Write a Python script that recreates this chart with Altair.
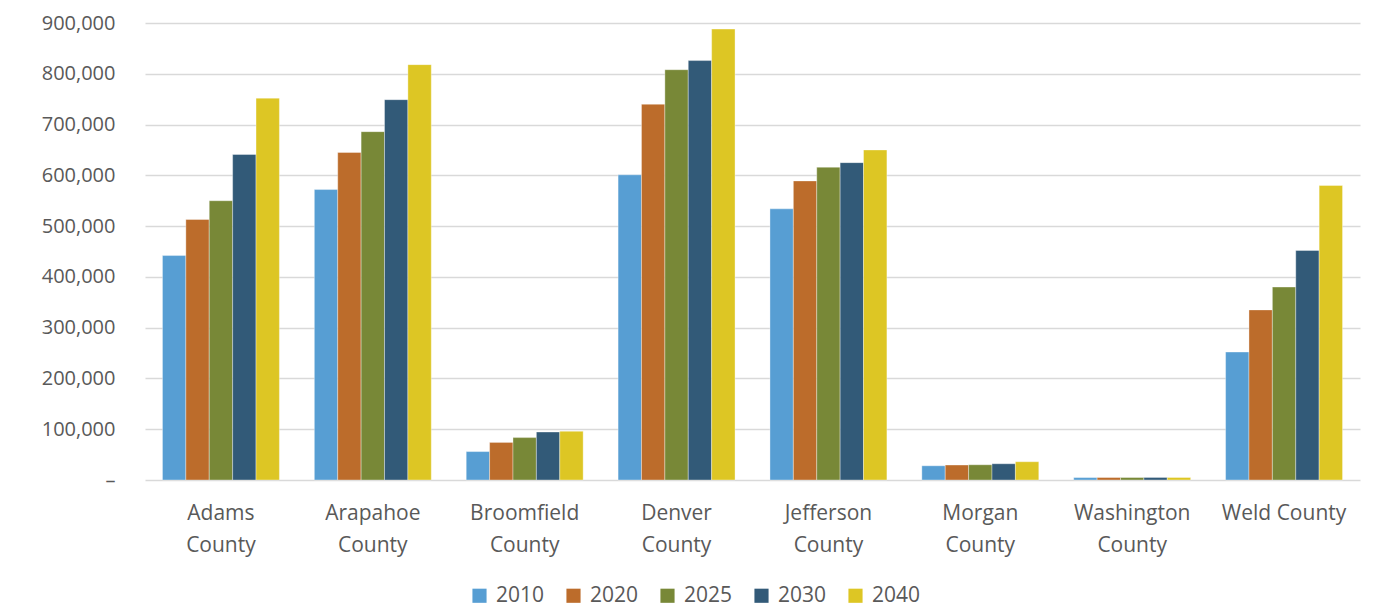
import altair as alt
import pandas as pd

counties = ["Adams County", "Arapahoe County", "Broomfield County", "Denver County",
            "Jefferson County", "Morgan County", "Washington County", "Weld County"]
years = ["2010", "2020", "2025", "2030", "2040"]
v2010 = [442000, 572000, 56000, 601000, 534000, 28000, 4800, 252000]
v2020 = [513000, 645000, 74000, 740000, 589000, 29500, 4900, 335000]
v2025 = [550000, 686000, 83500, 808000, 616000, 30000, 4900, 380000]
v2030 = [641000, 749000, 94500, 826000, 625000, 32000, 5000, 452000]
v2040 = [752000, 818000, 96000, 888000, 650000, 36000, 5000, 580000]
colors = ["#579ED3", "#BC6C2B", "#788837", "#325A78", "#DDC624"]

series = [v2010, v2020, v2025, v2030, v2040]
rows = []
for y, vals in zip(years, series):
    for c, v in zip(counties, vals):
        rows.append({"County": c, "Year": y, "Population": v})
df = pd.DataFrame(rows)

FONT = "Open Sans"
TXT = "#595959"

chart = alt.Chart(df).mark_bar(stroke="#ffffff", strokeWidth=0.6, strokeOpacity=0.6).encode(
    x=alt.X("County:N", sort=counties, title=None,
            scale=alt.Scale(paddingInner=0.23, paddingOuter=0.115),
            axis=alt.Axis(labelAngle=0, ticks=False, domain=False, labelPadding=22,
                          labelFont=FONT, labelFontSize=21, labelColor=TXT,
                          labelLineHeight=32, labelBaseline="top",
                          labelExpr="datum.label == 'Weld County' ? datum.label : split(datum.label, ' ')")),
    xOffset=alt.XOffset("Year:N", sort=years),
    y=alt.Y("Population:Q", title=None,
            scale=alt.Scale(domain=[0, 900000], nice=False),
            axis=alt.Axis(values=list(range(0, 900001, 100000)), ticks=False, domain=False,
                          labelPadding=30, labelFont=FONT, labelFontSize=20, labelColor=TXT,
                          gridColor="#D9D9D9", gridWidth=1.5,
                          labelExpr="datum.value == 0 ? '–' : format(datum.value, ',')")),
    color=alt.Color("Year:N", sort=years, scale=alt.Scale(domain=years, range=colors),
                    legend=alt.Legend(orient="none", legendX=324, legendY=562,
                                      direction="horizontal", title=None,
                                      symbolType="square", symbolSize=200, symbolStrokeWidth=0,
                                      labelFont=FONT, labelFontSize=21, labelColor=TXT,
                                      columnPadding=18, labelOffset=6)),
).properties(
    width=1215, height=457,
    padding={"left": 33, "top": 5, "right": 10, "bottom": 4},
).configure_view(stroke=None)

chart.save("out.html", embed_options={"renderer": "svg", "actions": False})
